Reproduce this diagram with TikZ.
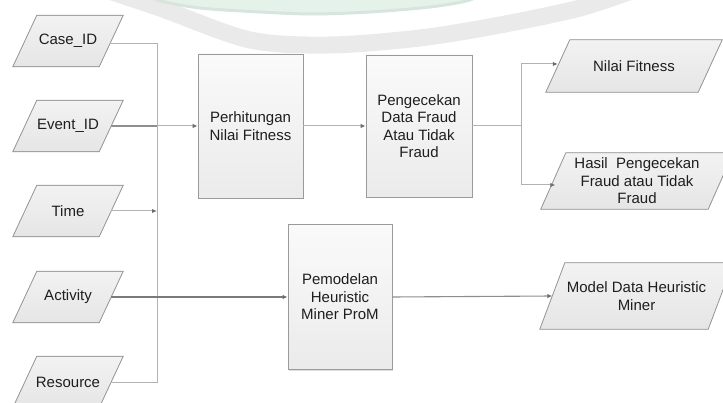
\documentclass[tikz,border=0pt]{standalone}
\usepackage{fontspec}
\setmainfont{Liberation Sans}
\usetikzlibrary{arrows.meta,backgrounds,shadows}

\definecolor{wmgray}{HTML}{EAEAEA}
\definecolor{wmgreen}{HTML}{E4F2EA}
\definecolor{wmedge}{HTML}{D8E5DE}
\definecolor{boxline}{HTML}{9A9A9A}
\definecolor{linegray}{HTML}{B2B2B2}
\definecolor{linemid}{HTML}{8E8E8E}
\definecolor{linedark}{HTML}{7A7A7A}
\definecolor{tipgray}{HTML}{6E6E6E}
\definecolor{txt}{HTML}{1E1E1E}

\begin{document}
\begin{tikzpicture}[x=1pt,y=-1pt,
  font=\fontsize{15}{17.5}\selectfont,
  every node/.style={text=txt},
  procbox/.style={draw=boxline, line width=0.8pt, top color=white!98!black,
    bottom color=white!92!black, align=center, inner sep=2pt,
    drop shadow={shadow xshift=1pt, shadow yshift=-1pt, opacity=0.25}},
  datanode/.style={inner sep=0pt, align=center},
  parashape/.style={draw=boxline, line width=0.8pt, top color=white!95!black,
    bottom color=white!90!black},
  conn/.style={draw=linegray, line width=1pt},
  connmid/.style={draw=linemid, line width=1.1pt},
  conndark/.style={draw=linedark, line width=1.2pt},
  arr/.style={-{Latex[length=5pt,width=4.5pt,color=tipgray]}}]

\useasboundingbox (0,0) rectangle (723,403);

% input data
\node[datanode, minimum width=86, minimum height=51] (case)  at (68,41)  {Case\_ID};
\node[datanode, minimum width=86, minimum height=51] (event) at (68,126) {Event\_ID};
\node[datanode, minimum width=86, minimum height=51] (time)  at (68,211) {Time};
\node[datanode, minimum width=86, minimum height=51] (act)   at (68,297) {Activity};
\node[datanode, minimum width=86, minimum height=51] (res)   at (68,382) {Resource};

% processes
\node[procbox, minimum width=105, minimum height=144] (fit)   at (250.5,126) {Perhitungan\\Nilai Fitness};
\node[procbox, minimum width=106, minimum height=142] (cek)   at (419,126)   {Pengecekan\\Data Fraud\\Atau Tidak\\Fraud};
\node[procbox, minimum width=104, minimum height=145] (model) at (340,297)   {Pemodelan\\Heuristic\\Miner ProM};

% outputs
\node[datanode, minimum width=152, minimum height=52] (nilai) at (634,66)    {Nilai Fitness};
\node[datanode, minimum width=167, minimum height=56] (hasil) at (637,181)   {Hasil\ \ Pengecekan\\Fraud atau Tidak\\Fraud};
\node[datanode, minimum width=168, minimum height=66] (mdata) at (636.5,296) {Model Data Heuristic\\Miner};

% junction points
\coordinate (bus) at (157,0);
\coordinate (split) at (521,0);

% connectors
\draw[conn] ([yshift=-3pt]case.east) -| (bus |- res.east) -- (res.east);
\draw[connmid] (event.east) -- (event.east -| bus);
\draw[conn, arr] (event.east -| bus) -- (fit.west);
\draw[conn, arr] (time.east) -- (time.east -| bus);
\draw[conndark, arr] (act.east) -- (model.west);
\draw[conn, arr] (fit.east) -- (cek.west);
\draw[conn] (cek.east) -- (cek.east -| split);
\draw[conn, arr] (cek.east -| split) |- ([yshift=2pt]nilai.west);
\draw[conn, arr] (cek.east -| split) |- ([yshift=-4pt,xshift=2pt]hasil.west);
\draw[connmid, arr] (model.east) -- (mdata.west);

\begin{scope}[on background layer]
  % watermark arcs
  \begin{scope}
    \clip (0,0) rectangle (723,403);
    \draw[wmgray, line width=17pt, line cap=round] plot[smooth] coordinates
      {(100,-12) (160,8) (250,40) (330,45) (420,38) (500,25) (580,8) (640,-12)};
    \fill[wmgreen] plot[smooth] coordinates
      {(140,-10) (157,0) (200,8) (260,12) (313,14) (370,12) (430,7) (470,0) (485,-10)} -- cycle;
    \draw[wmedge, line width=3pt] plot[smooth] coordinates
      {(140,-10) (157,0) (200,8) (260,12) (313,14) (370,12) (430,7) (470,0) (485,-10)};
  \end{scope}
  % parallelogram data shapes
  \foreach \n/\s in {case/12, event/12, time/12, act/12, res/12, nilai/12, hasil/12.5, mdata/12.5}
    \filldraw[parashape] ([xshift=-\s pt]\n.south west) -- ([xshift=\s pt]\n.north west)
      -- ([xshift=\s pt]\n.north east) -- ([xshift=-\s pt]\n.south east) -- cycle;
\end{scope}
\end{tikzpicture}
\end{document}
